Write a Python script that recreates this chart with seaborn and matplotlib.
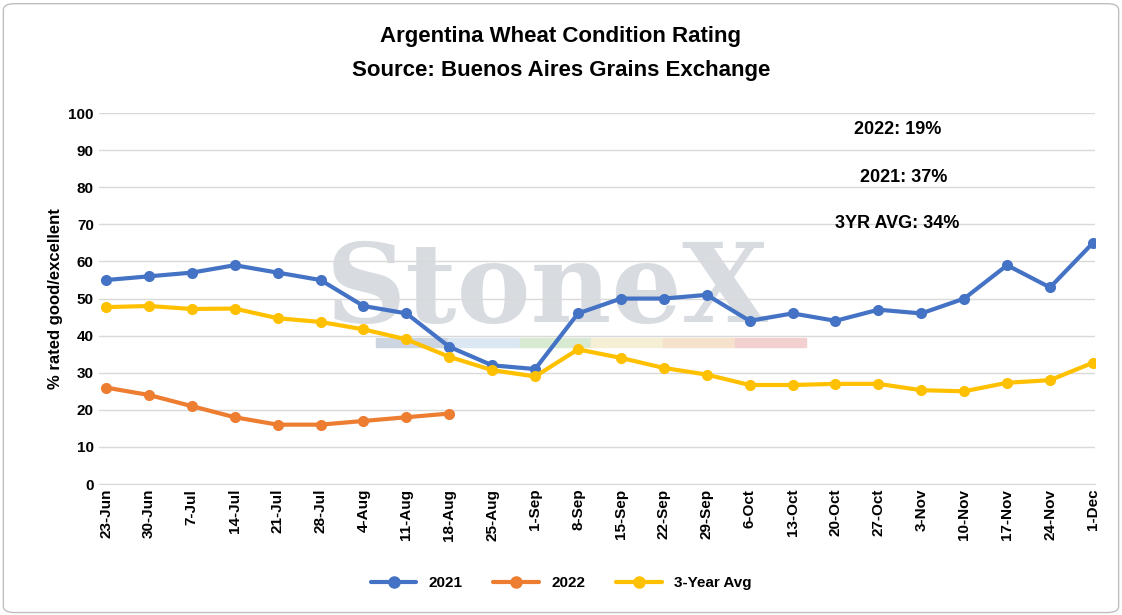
import matplotlib
matplotlib.use("Agg")
import matplotlib.pyplot as plt
import seaborn as sns
import pandas as pd

weeks = ["23-Jun","30-Jun","7-Jul","14-Jul","21-Jul","28-Jul","4-Aug","11-Aug","18-Aug",
         "25-Aug","1-Sep","8-Sep","15-Sep","22-Sep","29-Sep","6-Oct","13-Oct","20-Oct",
         "27-Oct","3-Nov","10-Nov","17-Nov","24-Nov","1-Dec"]
y2021 = [55,56,57,59,57,55,48,46,37,32,31,46,50,50,51,44,46,44,47,46,50,59,53,65]
y2022 = [26,24,21,18,16,16,17,18,19]
avg3 = [47.7,48,47.2,47.3,44.7,43.7,41.7,39,34.3,30.7,29,36.3,34,31.3,29.5,26.7,26.7,27,27,25.3,25,27.3,28,32.7]

rows = []
for i, v in enumerate(y2021):
    rows.append((i, v, "2021"))
for i, v in enumerate(y2022):
    rows.append((i, v, "2022"))
for i, v in enumerate(avg3):
    rows.append((i, v, "3-Year Avg"))
df = pd.DataFrame(rows, columns=["x", "val", "series"])

sns.set_style("white")
plt.rcParams['font.family'] = ['Liberation Sans', 'DejaVu Sans']
plt.rcParams['text.color'] = 'black'
plt.rcParams['xtick.color'] = 'black'
plt.rcParams['ytick.color'] = 'black'
plt.rcParams['axes.labelcolor'] = 'black'
fig = plt.figure(figsize=(11.22, 6.15), dpi=100)
ax = fig.add_axes([0.088, 0.213, 0.888, 0.603])

pal = {"2021": "#4472C4", "2022": "#ED7D31", "3-Year Avg": "#FFC000"}
sns.lineplot(data=df, x="x", y="val", hue="series", palette=pal, marker="o",
             markersize=8, markeredgewidth=0, linewidth=3, ax=ax, legend=False)

xmin, xmax = -0.17, 23.05
span = xmax - xmin
# watermark
ax.text(0.45, 0.52, "StoneX", transform=ax.transAxes, fontsize=80, fontweight="bold",
        family="DejaVu Serif", color="#c8ccd2", alpha=0.7, ha="center", va="center", zorder=0)
for k, c in enumerate(["#cdd5e0", "#dbe7f2", "#d9ead3", "#f5efd6", "#f6e2cc", "#f2d0d0"]):
    ax.axhspan(37, 39.5, xmin=(6.3 + k * 1.67 - xmin) / span, xmax=(7.97 + k * 1.67 - xmin) / span,
               color=c, zorder=0)

ax.set_xlim(xmin, xmax)
ax.set_ylim(0, 100)
ax.set_yticks(range(0, 101, 10))
ax.set_xticks(range(len(weeks)))
ax.set_xticklabels(weeks, rotation=90, fontsize=11, fontweight="bold")
for t in ax.get_yticklabels():
    t.set_fontsize(11); t.set_fontweight("bold")
ax.set_xlabel("")
ax.set_ylabel("% rated good/excellent", fontsize=12, fontweight="bold")
ax.grid(axis="y", color="#d9d9d9", linewidth=1)
for s in ["top", "right", "left"]:
    ax.spines[s].set_visible(False)
ax.spines["bottom"].set_color("#d9d9d9")
ax.tick_params(length=0)

fig.text(0.5, 0.94, "Argentina Wheat Condition Rating", ha="center", va="center",
         fontsize=16, fontweight="bold")
fig.text(0.5, 0.885, "Source: Buenos Aires Grains Exchange", ha="center", va="center",
         fontsize=16, fontweight="bold")

for xx, yy, s in [(0.80, 0.79, "2022: 19%"), (0.805, 0.712, "2021: 37%"), (0.80, 0.637, "3YR AVG: 34%")]:
    fig.text(xx, yy, s, ha="center", va="center", fontsize=13, fontweight="bold")

handles = [plt.Line2D([], [], color=pal[k], marker="o", linewidth=3, markersize=8) for k in pal]
fig.legend(handles, list(pal), loc="center", bbox_to_anchor=(0.5, 0.052), ncol=3,
           frameon=False, prop={"size": 11, "weight": "bold"}, handlelength=3, columnspacing=2)

fig.patches.append(matplotlib.patches.FancyBboxPatch((0.003, 0.004), 0.994, 0.99,
    boxstyle="round,pad=0,rounding_size=0.01", transform=fig.transFigure,
    fill=False, edgecolor="#bfbfbf", linewidth=1))
fig.savefig("out.png", dpi=100)
